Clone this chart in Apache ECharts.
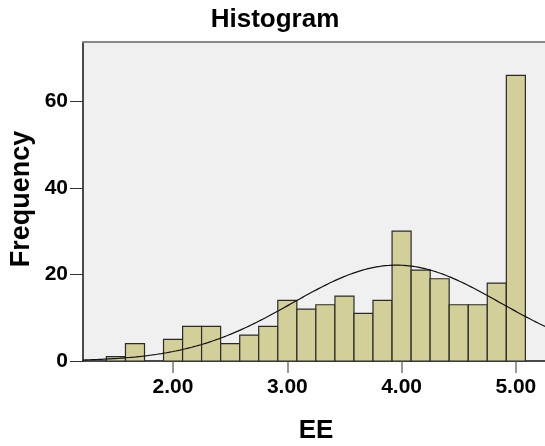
<!DOCTYPE html>
<html>
<head>
<meta charset="utf-8">
<title>Histogram</title>
<script src="https://cdn.jsdelivr.net/npm/echarts@6/dist/echarts.min.js"></script>
<style>
  html, body { margin: 0; padding: 0; background: #ffffff; }
  #chart { width: 545px; height: 446px; }
</style>
</head>
<body>
<div id="chart"></div>
<script>
// Bin midpoints of EE (bins are 1/6 wide) and the count in each bin
const binMids = [1.500, 1.667, 1.833, 2.000, 2.167, 2.333, 2.500, 2.667, 2.833, 3.000, 3.167,
                 3.333, 3.500, 3.667, 3.833, 4.000, 4.167, 4.333, 4.500, 4.667, 4.833, 5.000];
const counts  = [1, 4, 0, 5, 8, 8, 4, 6, 8, 14, 12,
                 13, 15, 11, 14, 30, 21, 19, 13, 13, 18, 66];
const binWidth = 1 / 6;

const xTicks = [2, 3, 4, 5];
const yTicks = [0, 20, 40, 60];
const xRange = [1.212, 5.255];
const yRange = [0, 73.7];

// Normal curve fitted to the binned data, scaled to counts per bin
const total = counts.reduce((s, c) => s + c, 0);
const mean = binMids.reduce((s, m, i) => s + m * counts[i], 0) / total;
const sd = Math.sqrt(binMids.reduce((s, m, i) => s + (m - mean) * (m - mean) * counts[i], 0) / total);
const curve = [];
const steps = 200;
for (let i = 0; i <= steps; i++) {
  const x = xRange[0] + (xRange[1] - xRange[0]) * i / steps;
  const z = (x - mean) / sd;
  curve.push([x, total * binWidth * Math.exp(-0.5 * z * z) / (sd * Math.sqrt(2 * Math.PI))]);
}

const FONT = '"Liberation Sans", Arial, Helvetica, sans-serif';
const chart = echarts.init(document.getElementById('chart'), null, { renderer: 'canvas' });

chart.setOption({
  animation: false,
  backgroundColor: '#ffffff',
  grid: {
    left: 83, right: 0, top: 42, bottom: 85,
    show: true, backgroundColor: '#f0f0f0', borderWidth: 0
  },
  xAxis: [{
    type: 'value', min: xRange[0], max: xRange[1],
    splitLine: { show: false },
    axisLine: { show: true, onZero: false, lineStyle: { color: '#111111', width: 1.5 } },
    axisTick: { show: true, length: 12, customValues: xTicks, lineStyle: { color: '#777777', width: 1.5 } },
    axisLabel: {
      customValues: xTicks, margin: 16,
      formatter: v => v.toFixed(2),
      color: '#000000', fontFamily: FONT, fontWeight: 'bold', fontSize: 21
    }
  }, {
    type: 'value', position: 'top', min: xRange[0], max: xRange[1],
    splitLine: { show: false },
    axisLine: { show: true, onZero: false, lineStyle: { color: '#888888', width: 2 } },
    axisTick: { show: false }, axisLabel: { show: false }
  }],
  yAxis: {
    type: 'value', min: yRange[0], max: yRange[1],
    splitLine: { show: false },
    axisLine: { show: true, onZero: false, lineStyle: { color: '#111111', width: 1.5 } },
    axisTick: { show: true, length: 13, customValues: yTicks, lineStyle: { color: '#333333', width: 1 } },
    axisLabel: {
      customValues: yTicks, margin: 15,
      color: '#000000', fontFamily: FONT, fontWeight: 'bold', fontSize: 21
    }
  },
  series: [{
    type: 'custom',
    xAxisIndex: 0,
    data: binMids.map((m, i) => [m, counts[i]]),
    renderItem: function (params, api) {
      const mid = api.value(0), c = api.value(1);
      if (c <= 0) return null;
      const p0 = api.coord([mid - binWidth / 2, c]);
      const p1 = api.coord([mid + binWidth / 2, 0]);
      return {
        type: 'rect',
        shape: { x: p0[0], y: p0[1], width: p1[0] - p0[0], height: p1[1] - p0[1] },
        style: { fill: '#d3cf98', stroke: '#2a2a2a', lineWidth: 1.2 }
      };
    },
    z: 2
  }, {
    type: 'line',
    xAxisIndex: 0,
    data: curve,
    showSymbol: false,
    smooth: false,
    lineStyle: { color: '#111111', width: 1.2 },
    z: 3
  }],
  graphic: [{
    type: 'text', x: 275, y: 20,
    style: {
      text: 'Histogram', textAlign: 'center', textVerticalAlign: 'middle',
      fontFamily: FONT, fontWeight: 'bold', fontSize: 26, fill: '#000000'
    }
  }, {
    type: 'text', x: 22, y: 199, rotation: Math.PI / 2,
    style: {
      text: 'Frequency', textAlign: 'center', textVerticalAlign: 'middle',
      fontFamily: FONT, fontWeight: 'bold', fontSize: 27, fill: '#000000'
    }
  }, {
    type: 'text', x: 316, y: 431,
    style: {
      text: 'EE', textAlign: 'center', textVerticalAlign: 'middle',
      fontFamily: FONT, fontWeight: 'bold', fontSize: 26, fill: '#000000'
    }
  }]
});
</script>
</body>
</html>
